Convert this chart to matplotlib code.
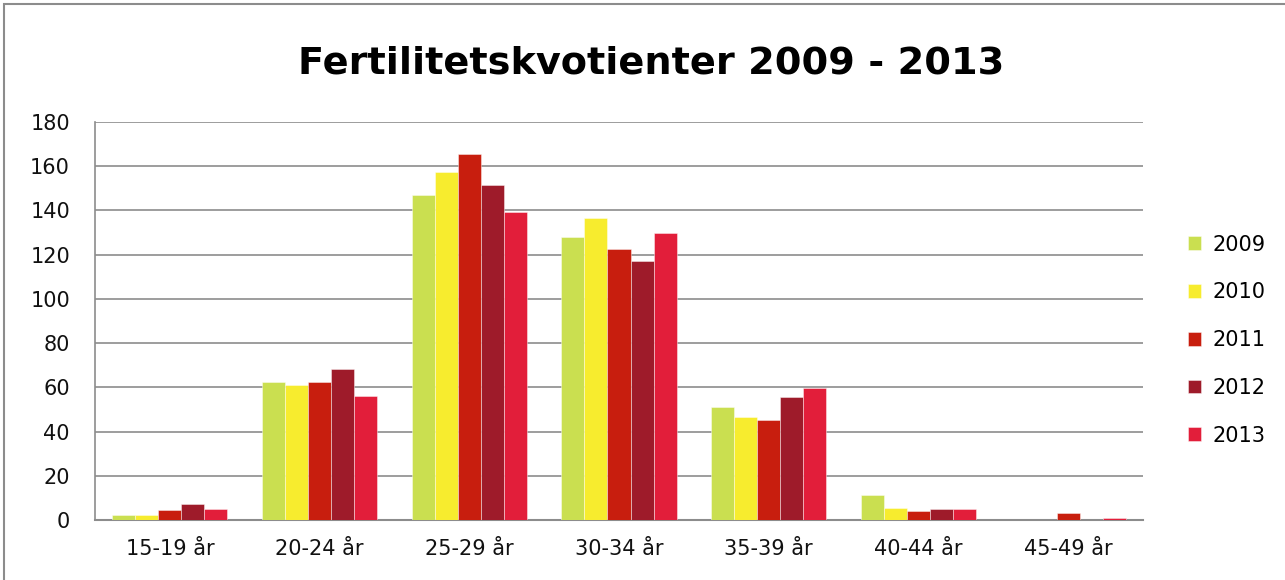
import matplotlib
matplotlib.use("Agg")
import matplotlib.pyplot as plt
import numpy as np
from matplotlib.patches import Rectangle

categories = ["15-19 år", "20-24 år", "25-29 år", "30-34 år", "35-39 år", "40-44 år", "45-49 år"]
years = ["2009", "2010", "2011", "2012", "2013"]
v2009 = [2.4, 62.4, 147.0, 128.0, 51.0, 11.2, 0.0]
v2010 = [2.1, 61.0, 157.5, 136.8, 46.6, 5.6, 0.0]
v2011 = [4.5, 62.4, 165.7, 122.5, 45.2, 3.9, 3.3]
v2012 = [7.2, 68.3, 151.4, 117.2, 55.7, 4.8, 0.0]
v2013 = [4.8, 56.0, 139.2, 130.0, 59.7, 4.8, 0.9]
series = [v2009, v2010, v2011, v2012, v2013]
colors = ["#CADF50", "#F7EC2E", "#C81E0E", "#9E1B2A", "#E21E3A"]

plt.rcParams['font.family'] = ['DejaVu Sans']

fig = plt.figure(figsize=(12.85, 5.8), dpi=100)
ax = fig.add_axes([95/1285, 1 - 520/580, (1143-95)/1285, (520-122)/580])

x = np.arange(len(categories))
bw = 0.154
for i, (vals, c, y) in enumerate(zip(series, colors, years)):
    ax.bar(x + (i - 2) * bw, vals, width=bw, color=c, label=y,
           edgecolor=(1, 1, 1, 0.5), linewidth=0.6, zorder=3)

ax.set_xlim(-0.5, len(categories) - 0.5)
ax.set_ylim(0, 180)
ax.set_yticks(range(0, 181, 20))
ax.set_xticks(x)
ax.set_xticklabels(categories)
ax.tick_params(axis='both', labelsize=15, length=0, colors='#111111')
ax.tick_params(axis='x', pad=14)
ax.tick_params(axis='y', pad=18)
ax.yaxis.grid(True, color='#8C8C8C', linewidth=1.2, zorder=0)
ax.set_axisbelow(True)
for s in ['top', 'right']:
    ax.spines[s].set_visible(False)
ax.spines['left'].set_color('#8C8C8C')
ax.spines['bottom'].set_color('#8C8C8C')
ax.spines['left'].set_linewidth(1.2)
ax.spines['bottom'].set_linewidth(1.5)

fig.text(651/1285, 1 - 63/580, "Fertilitetskvotienter 2009 - 2013", ha='center', va='center',
         fontsize=27.5, fontweight='bold', color='black')

leg = ax.legend(loc='center left', bbox_to_anchor=(1.025, 0.452), frameon=False,
                fontsize=15, handlelength=0.65, handleheight=0.65, labelspacing=1.33,
                handletextpad=0.55)

fig.patches.append(Rectangle((4/1285, -0.1), 1.2, 1 - 4/580 + 0.1, transform=fig.transFigure,
                             fill=False, edgecolor='#8C8C8C', linewidth=1.5))

fig.savefig("out.png", dpi=100)
